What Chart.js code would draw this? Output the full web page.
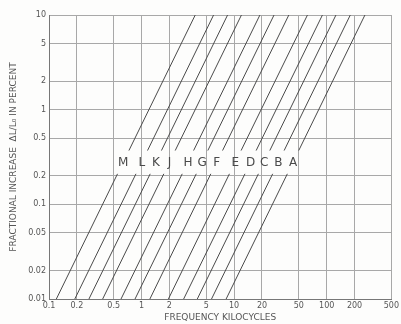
<!DOCTYPE html>
<html>
<head>
<meta charset="utf-8">
<script src="https://cdn.jsdelivr.net/npm/chart.js@4"></script>
<style>
  html, body { margin: 0; padding: 0; background: #fdfdfc; }
  #wrap { width: 401px; height: 324px; }
</style>
</head>
<body>
<div id="wrap"><canvas id="chart" width="401" height="324"></canvas></div>
<script>
const curveNames = ["M", "L", "K", "J", "H", "G", "F", "E", "D", "C", "B", "A"];

// frequency (kc) where each line crosses the given percent value
const lowPct = [0.01, 0.21];
const highPct = [0.37, 10];
const lowStart = [0.12, 0.19, 0.27, 0.38, 0.6, 0.85, 1.23, 1.95, 2.85, 4.0, 5.7, 8.2];
const lowEnd = [0.55, 0.87, 1.24, 1.74, 2.75, 3.9, 5.6, 8.9, 13.1, 18.3, 26.1, 37.6];
const highStart = [0.73, 1.16, 1.64, 2.31, 3.65, 5.2, 7.5, 11.9, 17.3, 24.3, 34.7, 49.9];
const highEnd = [3.8, 6.0, 8.5, 12.0, 19, 27, 39, 62, 90, 126, 180, 259];

const xTicks = [0.1, 0.2, 0.5, 1, 2, 5, 10, 20, 50, 100, 200, 500];
const yTicks = [0.01, 0.02, 0.05, 0.1, 0.2, 0.5, 1, 2, 5, 10];

const ink = "#4a4a4a";
const gridColor = "#a8a8a8";

const datasets = [];
curveNames.forEach((name, i) => {
  datasets.push({
    label: name + " low",
    data: [
      { x: lowStart[i], y: lowPct[0] },
      { x: lowEnd[i], y: lowPct[1] },
    ],
  });
  datasets.push({
    label: name + " high",
    data: [
      { x: highStart[i], y: highPct[0] },
      { x: highEnd[i], y: highPct[1] },
    ],
  });
});
datasets.forEach((d) => {
  d.showLine = true;
  d.borderColor = ink;
  d.borderWidth = 1;
  d.pointRadius = 0;
  d.clip = 0;
});

// letters sit in the gap between the two pieces of each line
const letterPlugin = {
  id: "letters",
  afterDatasetsDraw(chart) {
    const { ctx, scales } = chart;
    const yVal = Math.sqrt(lowPct[1] * highPct[0]);
    ctx.save();
    ctx.fillStyle = ink;
    ctx.font = "12px 'DejaVu Sans', sans-serif";
    ctx.textAlign = "center";
    ctx.textBaseline = "middle";
    curveNames.forEach((name, i) => {
      const xVal = Math.sqrt(lowEnd[i] * highStart[i]);
      ctx.fillText(name, scales.x.getPixelForValue(xVal), scales.y.getPixelForValue(yVal) + 1);
    });
    ctx.restore();
  },
};

const tickFont = { size: 8, family: "'DejaVu Sans', sans-serif" };
const titleFont = { size: 9, family: "'DejaVu Sans', sans-serif" };

new Chart(document.getElementById("chart"), {
  type: "scatter",
  data: { datasets },
  plugins: [letterPlugin],
  options: {
    responsive: false,
    animation: false,
    layout: { padding: { top: 15, right: 6, left: 0, bottom: 0 } },
    plugins: { legend: { display: false }, tooltip: { enabled: false } },
    scales: {
      x: {
        type: "logarithmic",
        min: 0.1,
        max: 500,
        afterBuildTicks: (s) => {
          s.ticks = xTicks.map((v) => ({ value: v }));
        },
        afterFit: (s) => {
          s.height = 25;
        },
        ticks: {
          color: "#555",
          font: tickFont,
          padding: 2,
          maxRotation: 0,
          autoSkip: false,
          callback: (v) => String(v),
        },
        grid: { color: gridColor, tickLength: 0, lineWidth: 1 },
        border: { color: "#777" },
        title: {
          display: true,
          text: "FREQUENCY KILOCYCLES",
          color: "#555",
          font: titleFont,
          padding: { top: 0, bottom: 1 },
        },
      },
      y: {
        type: "logarithmic",
        min: 0.01,
        max: 10,
        afterBuildTicks: (s) => {
          s.ticks = yTicks.map((v) => ({ value: v }));
        },
        afterFit: (s) => {
          s.width = 49;
        },
        ticks: {
          color: "#555",
          font: tickFont,
          padding: 3,
          autoSkip: false,
          callback: (v) => String(v),
        },
        grid: { color: gridColor, tickLength: 0, lineWidth: 1 },
        border: { color: "#777" },
        title: {
          display: true,
          text: "FRACTIONAL INCREASE  ΔL/L₀ IN PERCENT",
          color: "#555",
          font: titleFont,
          padding: { top: 8, bottom: 0 },
        },
      },
    },
  },
});
</script>
</body>
</html>
